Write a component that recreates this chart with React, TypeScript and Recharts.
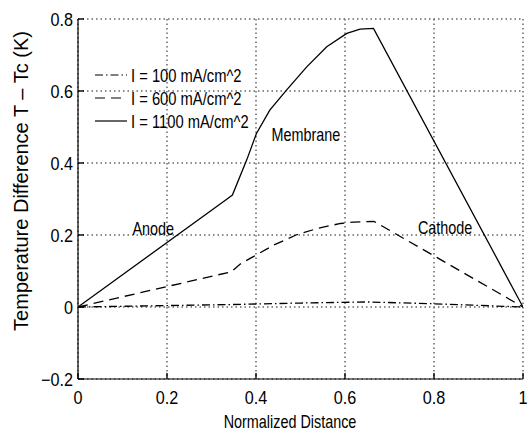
import {
  LineChart,
  Line,
  XAxis,
  YAxis,
  Legend,
  ReferenceDot,
  CartesianGrid,
} from 'recharts';

const xTicks = [0, 0.2, 0.4, 0.6, 0.8, 1];
const yTicks = [-0.2, 0, 0.2, 0.4, 0.6, 0.8];

const lowX = [0, 0.2, 0.35, 0.5, 0.65, 0.8, 1];
const lowY = [0, 0.004, 0.007, 0.011, 0.014, 0.009, 0];

const midX = [0, 0.345, 0.364, 0.394, 0.44, 0.49, 0.54, 0.59, 0.62, 0.665, 1];
const midY = [0, 0.098, 0.119, 0.14, 0.172, 0.2, 0.219, 0.232, 0.236, 0.238, 0];

const highX = [0, 0.335, 0.347, 0.379, 0.401, 0.431, 0.469, 0.514, 0.559, 0.604, 0.634, 0.664, 1];
const highY = [0, 0.3, 0.311, 0.408, 0.482, 0.547, 0.603, 0.667, 0.723, 0.76, 0.772, 0.774, 0];

const regions = [
  { name: 'Anode', x: 0.169, y: 0.219 },
  { name: 'Membrane', x: 0.512, y: 0.478 },
  { name: 'Cathode', x: 0.825, y: 0.222 },
];

const toPoints = (xs: number[], ys: number[]) => xs.map((x, i) => ({ x, y: ys[i] }));

const series = [
  { name: 'I = 100 mA/cm^2', data: toPoints(lowX, lowY), dash: '8 3 1.5 3' },
  { name: 'I = 600 mA/cm^2', data: toPoints(midX, midY), dash: '10 6' },
  { name: 'I = 1100 mA/cm^2', data: toPoints(highX, highY), dash: undefined },
];

const font = "'Liberation Sans', Arial, sans-serif";
const fmt = (v: number) => String(Math.round(v * 10) / 10).replace('-', '\u2212');

// the reference text is squeezed sideways, so scale x only
const NarrowText = ({ x, y, anchor = 'start', k = 0.82, size = 18, children }: any) => (
  <g transform={`translate(${x},${y}) scale(${k},1)`}>
    <text x={0} y={0} textAnchor={anchor} fontSize={size} fontFamily={font} fill="#000">
      {children}
    </text>
  </g>
);

// ticks point inward, matlab style
const BottomTick = (props: any) => {
  const { x, y, payload } = props;
  return (
    <g>
      <path d={`M${x},${y}V${y - 6}`} stroke="#000" strokeWidth={1.4} fill="none" />
      <NarrowText x={x} y={y + 25} anchor="middle" k={0.9}>
        {fmt(payload.value)}
      </NarrowText>
    </g>
  );
};

const TopTick = (props: any) => {
  const { x, y } = props;
  return <path d={`M${x},${y}V${y + 6}`} stroke="#000" strokeWidth={1.4} fill="none" />;
};

const LeftTick = (props: any) => {
  const { x, y, payload } = props;
  return (
    <g>
      <path d={`M${x},${y}H${x + 6}`} stroke="#000" strokeWidth={1.4} fill="none" />
      <NarrowText x={x - 5} y={y + 6.5} anchor="end" k={0.9}>
        {fmt(payload.value)}
      </NarrowText>
    </g>
  );
};

const RightTick = (props: any) => {
  const { x, y } = props;
  return <path d={`M${x},${y}H${x - 6}`} stroke="#000" strokeWidth={1.4} fill="none" />;
};

const renderLegend = () => (
  <svg width={200} height={70}>
    {series.map((s, i) => (
      <g key={s.name}>
        <line
          x1={0}
          x2={32}
          y1={11 + i * 23}
          y2={11 + i * 23}
          stroke="#000"
          strokeWidth={1.2}
          strokeDasharray={s.dash}
        />
        <NarrowText x={36} y={17.5 + i * 23}>
          {s.name}
        </NarrowText>
      </g>
    ))}
  </svg>
);

const regionLabel = (name: string) => (props: any) => {
  const vb = props.viewBox || {};
  const cx = (vb.x ?? 0) + (vb.width ?? 0) / 2;
  const cy = (vb.y ?? 0) + (vb.height ?? 0) / 2;
  return (
    <NarrowText x={cx} y={cy + 6.5} anchor="middle" k={0.8}>
      {name}
    </NarrowText>
  );
};

export default function App() {
  return (
    <div style={{ position: 'fixed', left: 0, top: 0, width: 528, height: 431, background: '#fff' }}>
      <LineChart width={528} height={431} margin={{ top: 19, right: 5, left: 0, bottom: 0 }}>
        <CartesianGrid stroke="#666" strokeWidth={1.5} strokeDasharray="1.5 3" />
        <XAxis
          type="number"
          dataKey="x"
          domain={[0, 1]}
          ticks={xTicks}
          height={52}
          tickSize={0}
          tickMargin={0}
          tickLine={false}
          axisLine={{ stroke: '#000', strokeWidth: 1.2 }}
          tick={<BottomTick />}
          allowDataOverflow
        />
        <XAxis
          xAxisId="top"
          orientation="top"
          type="number"
          domain={[0, 1]}
          ticks={xTicks}
          height={0}
          tickSize={0}
          tickMargin={0}
          tickLine={false}
          axisLine={{ stroke: '#000', strokeWidth: 1.2 }}
          tick={<TopTick />}
        />
        <YAxis
          type="number"
          domain={[-0.2, 0.8]}
          ticks={yTicks}
          width={78}
          tickSize={0}
          tickMargin={0}
          tickLine={false}
          axisLine={{ stroke: '#000', strokeWidth: 1.2 }}
          tick={<LeftTick />}
          allowDataOverflow
        />
        <YAxis
          yAxisId="right"
          orientation="right"
          type="number"
          domain={[-0.2, 0.8]}
          ticks={yTicks}
          width={0}
          tickSize={0}
          tickMargin={0}
          tickLine={false}
          axisLine={{ stroke: '#000', strokeWidth: 1.2 }}
          tick={<RightTick />}
        />
        {series.map((s) => (
          <Line
            key={s.name}
            name={s.name}
            data={s.data}
            dataKey="y"
            type="linear"
            stroke="#000"
            strokeWidth={1.3}
            strokeDasharray={s.dash}
            dot={false}
            activeDot={false}
            isAnimationActive={false}
          />
        ))}
        {regions.map((r) => (
          <ReferenceDot
            key={r.name}
            x={r.x}
            y={r.y}
            r={0}
            stroke="none"
            fill="none"
            label={regionLabel(r.name)}
          />
        ))}
        <Legend
          content={renderLegend}
          layout="horizontal"
          verticalAlign="middle"
          align="center"
          wrapperStyle={{ left: 95, top: 64, width: 200, height: 70 }}
        />
        <NarrowText x={290} y={428} anchor="middle" k={0.8}>
          Normalized Distance
        </NarrowText>
        <text
          x={28}
          y={181}
          textAnchor="middle"
          fontSize={20}
          fontFamily={font}
          fill="#000"
          transform="rotate(-90 28 181)"
        >
          Temperature Difference T – Tc (K)
        </text>
      </LineChart>
    </div>
  );
}
